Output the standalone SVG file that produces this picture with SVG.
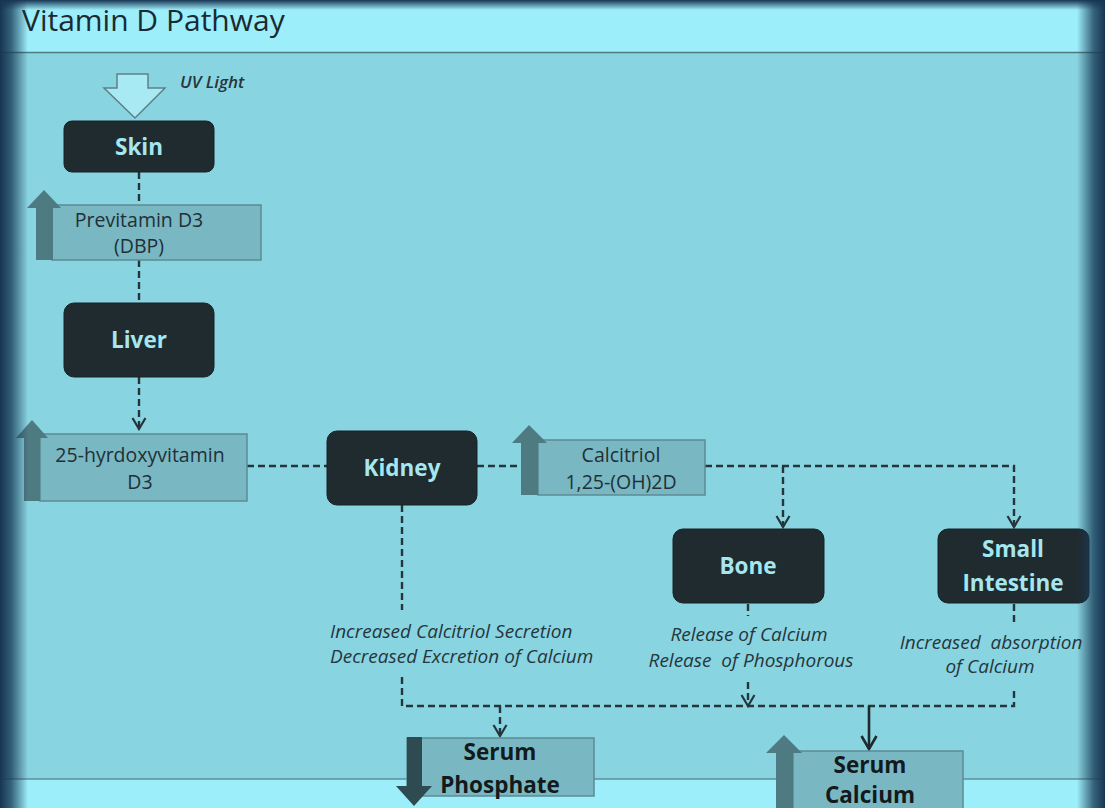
<svg xmlns="http://www.w3.org/2000/svg" width="1105" height="808" viewBox="0 0 1105 808">
<defs>
<style>
.node{fill:#1f2b2f;stroke:#172226;stroke-width:1}
.ntext{font-family:"Open Sans","DejaVu Sans",sans-serif;font-weight:bold;font-size:22.5px;fill:#a6e6ef;text-anchor:middle}
.box{fill:#79b7c3;stroke:#5c8b93;stroke-width:1.5}
.btext{font-family:"Open Sans","DejaVu Sans",sans-serif;font-size:19.5px;fill:#1f3036;text-anchor:middle}
.stext{font-family:"Open Sans","DejaVu Sans",sans-serif;font-weight:bold;font-size:22.5px;fill:#121a1c;text-anchor:middle}
.itext{font-family:"Open Sans","DejaVu Sans",sans-serif;font-style:italic;font-size:19px;fill:#26363c;text-anchor:middle;white-space:pre}
.dash{fill:none;stroke:#25353a;stroke-width:2.4;stroke-dasharray:7,4}
.solid{fill:none;stroke:#1f2a2e;stroke-width:2.6}
.up{fill:#4e7a82}
.down{fill:#2f4b52}
</style>
<marker id="va" viewBox="0 0 16 16" refX="14" refY="8" markerWidth="16" markerHeight="16" markerUnits="userSpaceOnUse" orient="auto">
<path d="M3,1.5 L14,8 L3,14.5" fill="none" stroke="#25353a" stroke-width="2.2"/>
</marker>
<marker id="vs" viewBox="0 0 18 18" refX="16" refY="9" markerWidth="18" markerHeight="18" markerUnits="userSpaceOnUse" orient="auto">
<path d="M3,1.5 L16,9 L3,16.5" fill="none" stroke="#1f2a2e" stroke-width="2.6"/>
</marker>
<linearGradient id="gl" x1="0" x2="1" y1="0" y2="0">
<stop offset="0" stop-color="#173553" stop-opacity="1"/>
<stop offset="0.4" stop-color="#1b3f5a" stop-opacity="0.8"/>
<stop offset="1" stop-color="#173553" stop-opacity="0"/>
</linearGradient>
<linearGradient id="gr" x1="1" x2="0" y1="0" y2="0">
<stop offset="0" stop-color="#173553" stop-opacity="1"/>
<stop offset="0.4" stop-color="#1b3f5a" stop-opacity="0.8"/>
<stop offset="1" stop-color="#173553" stop-opacity="0"/>
</linearGradient>
<linearGradient id="gt" x1="0" x2="0" y1="0" y2="1">
<stop offset="0" stop-color="#173553" stop-opacity="1"/>
<stop offset="1" stop-color="#173553" stop-opacity="0"/>
</linearGradient>
</defs>

<g id="background">
<rect x="0" y="0" width="1105" height="808" fill="#89d4e1"/>
<rect x="0" y="0" width="1105" height="52" fill="#9deefb"/>
<rect x="0" y="779" width="1105" height="29" fill="#9deefb"/>
<line x1="0" y1="52.5" x2="1105" y2="52.5" stroke="#4f7a80" stroke-width="1.5"/>
<line x1="0" y1="779" x2="1105" y2="779" stroke="#5f8f96" stroke-width="1.5"/>
</g>

<g id="title">
<text x="22" y="31" font-family="'Open Sans','DejaVu Sans',sans-serif" font-size="30" fill="#1b2a30">Vitamin D Pathway</text>
</g>

<g id="connectors">
<line class="dash" x1="139" y1="172" x2="139" y2="205"/>
<line class="dash" x1="139" y1="260" x2="139" y2="303"/>
<line class="dash" x1="139" y1="377" x2="139" y2="429" marker-end="url(#va)"/>
<line class="dash" x1="247" y1="466" x2="327" y2="466"/>
<line class="dash" x1="477" y1="466" x2="521" y2="466"/>
<path class="dash" d="M705,466 H1014 V527" marker-end="url(#va)"/>
<line class="dash" x1="783" y1="466" x2="783" y2="527" marker-end="url(#va)"/>
<line class="dash" x1="402" y1="505" x2="402" y2="610"/>
<path class="dash" d="M402,677 V706 H1014 V688"/>
<line class="dash" x1="748" y1="604" x2="748" y2="616"/>
<line class="dash" x1="748" y1="682" x2="748" y2="706" marker-end="url(#va)"/>
<line class="dash" x1="1014" y1="604" x2="1014" y2="622"/>
<line class="dash" x1="500" y1="706" x2="500" y2="736" marker-end="url(#va)"/>
<line class="solid" x1="869" y1="706" x2="869" y2="749" marker-end="url(#vs)"/>
</g>

<g id="uv-light">
<path d="M117,74 H148 V88 H165 L135,118 L104,88 H117 Z" fill="#a8eaf3" stroke="#5f8087" stroke-width="1.5"/>
<text x="180" y="88" font-family="'Open Sans','DejaVu Sans',sans-serif" font-style="italic" font-weight="600" font-size="17" fill="#26363c">UV Light</text>
</g>

<g id="skin">
<rect class="node" x="64" y="121" width="150" height="51" rx="8"/>
<text class="ntext" x="139" y="155">Skin</text>
</g>

<g id="previtamin">
<rect class="box" x="52" y="205" width="209" height="55"/>
<path class="up" d="M36,260 V208 H27 L44,190 L61,208 H53 V260 Z"/>
<text class="btext" x="139" y="227">Previtamin D3</text>
<text class="btext" x="139" y="253">(DBP)</text>
</g>

<g id="liver">
<rect class="node" x="64" y="303" width="150" height="74" rx="10"/>
<text class="ntext" x="139" y="348">Liver</text>
</g>

<g id="hydroxyvitamin">
<rect class="box" x="40" y="434" width="207" height="67"/>
<path class="up" d="M24,501 V438 H16 L32,420 L48,438 H40 V501 Z"/>
<text class="btext" x="140" y="462">25-hyrdoxyvitamin</text>
<text class="btext" x="140" y="489">D3</text>
</g>

<g id="kidney">
<rect class="node" x="327" y="431" width="150" height="74" rx="10"/>
<text class="ntext" x="402" y="476">Kidney</text>
</g>

<g id="calcitriol">
<rect class="box" x="538" y="440" width="167" height="55"/>
<path class="up" d="M521,495 V443 H512 L529,425 L547,443 H538 V495 Z"/>
<text class="btext" x="621" y="462">Calcitriol</text>
<text class="btext" x="621" y="489">1,25-(OH)2D</text>
</g>

<g id="bone">
<rect class="node" x="673" y="529" width="151" height="74" rx="10"/>
<text class="ntext" x="748" y="574">Bone</text>
</g>

<g id="small-intestine">
<rect class="node" x="938" y="529" width="151" height="74" rx="10"/>
<text class="ntext" x="1013" y="557">Small</text>
<text class="ntext" x="1013" y="591">Intestine</text>
</g>

<g id="kidney-effects">
<text class="itext" x="330" y="638" text-anchor="start" style="text-anchor:start">Increased Calcitriol Secretion</text>
<text class="itext" x="330" y="663" text-anchor="start" style="text-anchor:start">Decreased Excretion of Calcium</text>
</g>

<g id="bone-effects">
<text class="itext" x="749" y="641">Release of Calcium</text>
<text class="itext" x="751" y="667" xml:space="preserve">Release  of Phosphorous</text>
</g>

<g id="intestine-effects">
<text class="itext" x="991" y="649" xml:space="preserve">Increased  absorption</text>
<text class="itext" x="990" y="673">of Calcium</text>
</g>

<g id="serum-phosphate">
<rect class="box" x="407" y="738" width="187" height="58"/>
<path class="down" d="M407,737 H422 V786 H432 L414,806 L396,786 H407 Z"/>
<text class="stext" x="500" y="760">Serum</text>
<text class="stext" x="500" y="793">Phosphate</text>
</g>

<g id="serum-calcium">
<rect class="box" x="793" y="751" width="170" height="62"/>
<path class="up" d="M776,808 V753 H766 L784,735 L802,753 H793 V808 Z"/>
<text class="stext" x="870" y="773">Serum</text>
<text class="stext" x="870" y="803">Calcium</text>
</g>

<g id="vignette">
<rect x="0" y="0" width="28" height="808" fill="url(#gl)"/>
<rect x="1077" y="0" width="28" height="808" fill="url(#gr)"/>
<rect x="0" y="0" width="1105" height="10" fill="url(#gt)"/>
</g>
</svg>
